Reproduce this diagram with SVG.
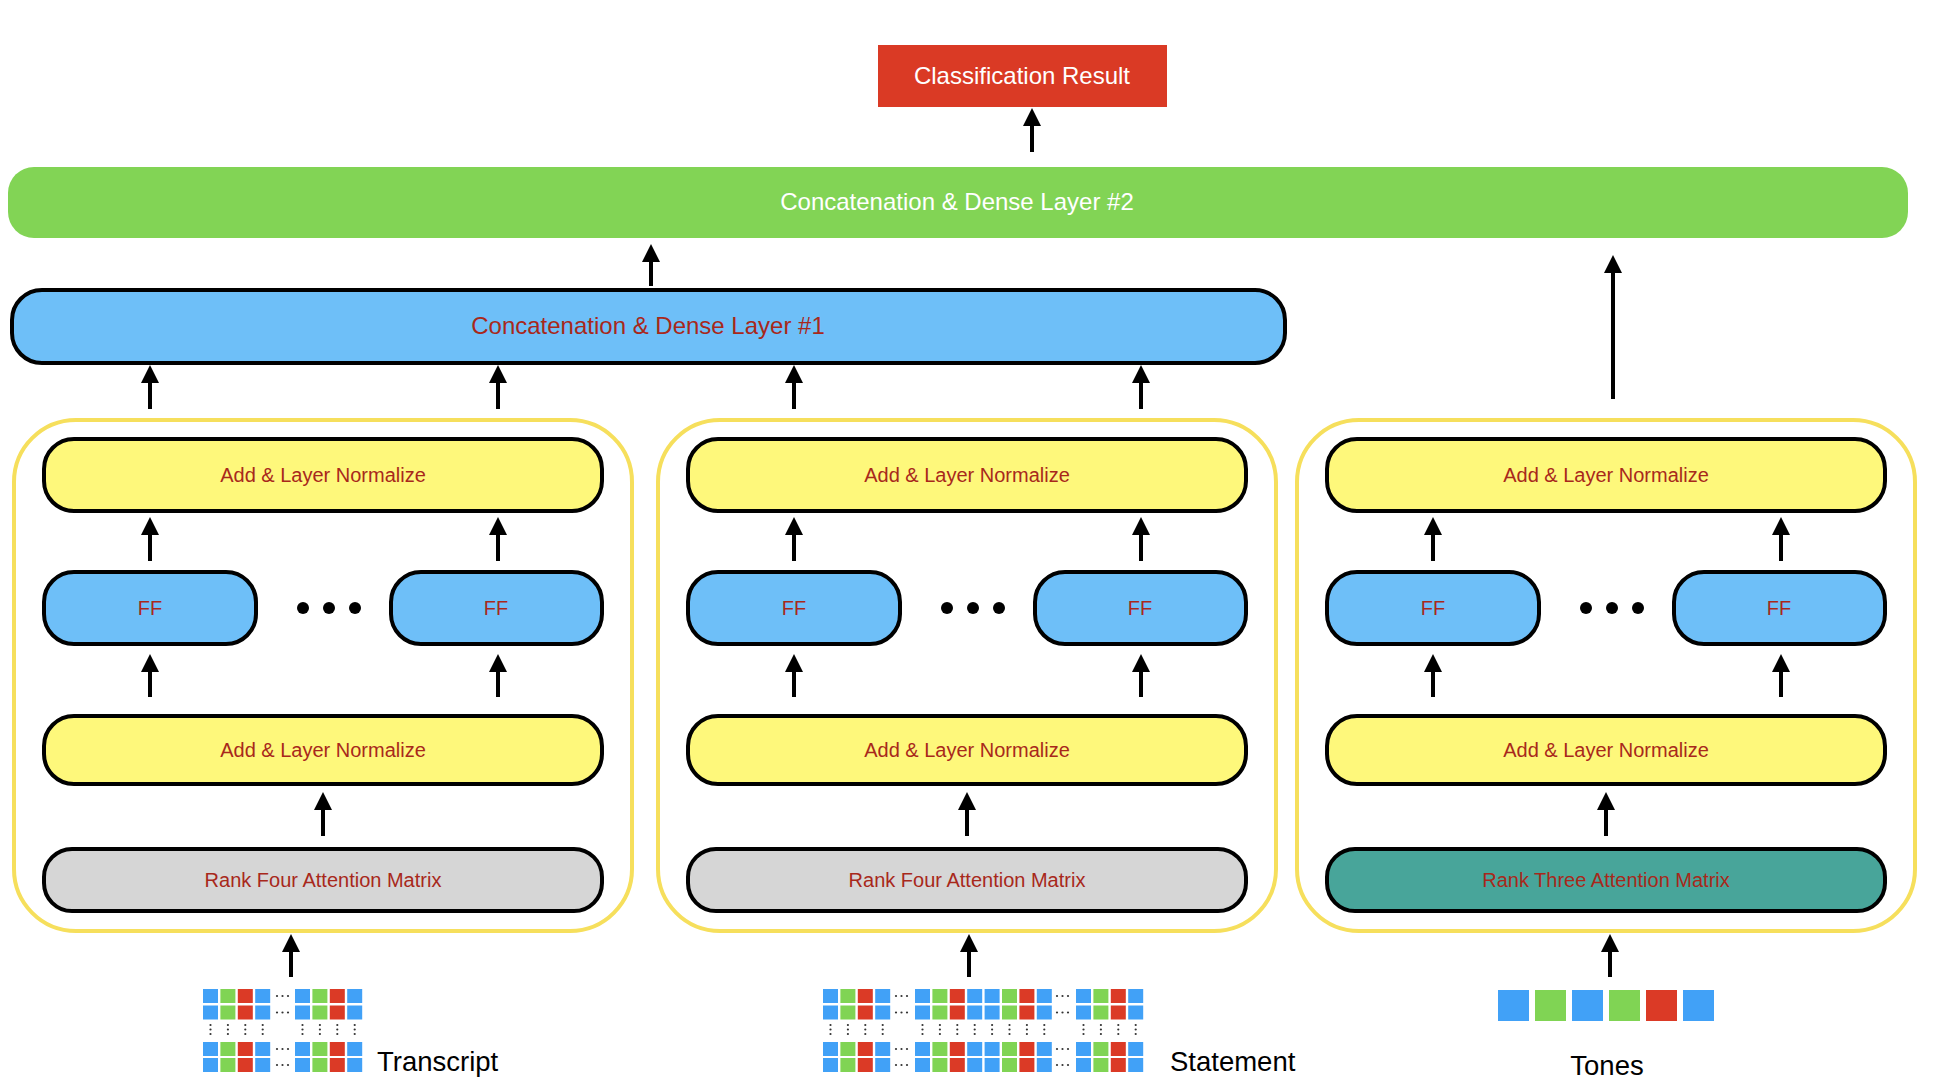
<svg xmlns="http://www.w3.org/2000/svg" xmlns:xlink="http://www.w3.org/1999/xlink" width="1960" height="1080" viewBox="0 0 1960 1080">
<style>
text{font-family:"Liberation Sans",Arial,sans-serif;}
.lbl{font-size:20px;fill:#a8281b;text-anchor:middle;}
.big{font-size:24px;text-anchor:middle;}
.cap{font-size:27.5px;fill:#000;}
.box{stroke:#000;stroke-width:4;}
.yel{fill:#fef87b;}
.blu{fill:#6ebff8;}
.gry{fill:#d6d6d6;}
.tea{fill:#48a59a;}
.panel{fill:none;stroke:#f6df5c;stroke-width:4;}
.arr{stroke:#000;stroke-width:4;fill:none;marker-end:url(#ah);}
.B{fill:#41a1f7;}
.G{fill:#80d454;}
.R{fill:#db3a26;}
.d{fill:#333;}
</style>
<defs>
<marker id="ah" markerUnits="userSpaceOnUse" markerWidth="18" markerHeight="18" viewBox="0 0 18 18" refX="2" refY="9" orient="auto"><path d="M0,0 L18,9 L0,18 z" fill="#000"/></marker>
<g id="q4">
<rect class="B" x="0" y="0" width="15" height="14"/>
<rect class="G" x="17.4" y="0" width="15" height="14"/>
<rect class="R" x="34.8" y="0" width="15" height="14"/>
<rect class="B" x="52.2" y="0" width="15" height="14"/>
</g>
<g id="ell"><circle class="d" cx="0" cy="7" r="1.1"/><circle class="d" cx="5.5" cy="7" r="1.1"/><circle class="d" cx="11" cy="7" r="1.1"/></g>
<g id="vd"><circle class="d" cx="7.5" cy="0" r="1.1"/><circle class="d" cx="7.5" cy="4.5" r="1.1"/><circle class="d" cx="7.5" cy="9" r="1.1"/></g>
<g id="vd4"><use xlink:href="#vd" x="0"/><use xlink:href="#vd" x="17.4"/><use xlink:href="#vd" x="34.8"/><use xlink:href="#vd" x="52.2"/></g>
<g id="trow"><use xlink:href="#q4" x="0"/><use xlink:href="#ell" x="74"/><use xlink:href="#q4" x="92"/></g>
<g id="srow"><use xlink:href="#q4" x="0"/><use xlink:href="#ell" x="73"/><use xlink:href="#q4" x="92"/><use xlink:href="#q4" x="161.6"/><use xlink:href="#ell" x="234"/><use xlink:href="#q4" x="253"/></g>
</defs>
<rect width="1960" height="1080" fill="#fff"/>

<g id="classification">
<rect x="878" y="45" width="289" height="62" fill="#da3a25"/>
<text class="big" x="1022" y="84" fill="#fff">Classification Result</text>
</g>

<g id="dense2">
<rect x="8" y="167" width="1900" height="71" rx="26" fill="#82d455"/>
<text class="big" x="957" y="210" fill="#fff">Concatenation &amp; Dense Layer #2</text>
</g>

<g id="dense1">
<rect class="box blu" x="12" y="290" width="1273" height="73" rx="30"/>
<text class="big" x="648" y="334" fill="#a8281b">Concatenation &amp; Dense Layer #1</text>
</g>

<g id="panel-transcript">
<rect class="panel" x="14" y="420" width="618" height="511" rx="62"/>
<g id="t-addtop"><rect class="box yel" x="44" y="439" width="558" height="72" rx="30"/><text class="lbl" x="323" y="482">Add &amp; Layer Normalize</text></g>
<g id="t-ff1"><rect class="box blu" x="44" y="572" width="212" height="72" rx="30"/><text class="lbl" x="150" y="615">FF</text></g>
<g id="t-ff2"><rect class="box blu" x="391" y="572" width="211" height="72" rx="30"/><text class="lbl" x="496" y="615">FF</text></g>
<g id="t-dots"><circle cx="303" cy="608" r="6"/><circle cx="329" cy="608" r="6"/><circle cx="355" cy="608" r="6"/></g>
<g id="t-addbot"><rect class="box yel" x="44" y="716" width="558" height="68" rx="30"/><text class="lbl" x="323" y="757">Add &amp; Layer Normalize</text></g>
<g id="t-rank"><rect class="box gry" x="44" y="849" width="558" height="62" rx="28"/><text class="lbl" x="323" y="887">Rank Four Attention Matrix</text></g>
</g>

<g id="panel-statement">
<rect class="panel" x="658" y="420" width="618" height="511" rx="62"/>
<g id="s-addtop"><rect class="box yel" x="688" y="439" width="558" height="72" rx="30"/><text class="lbl" x="967" y="482">Add &amp; Layer Normalize</text></g>
<g id="s-ff1"><rect class="box blu" x="688" y="572" width="212" height="72" rx="30"/><text class="lbl" x="794" y="615">FF</text></g>
<g id="s-ff2"><rect class="box blu" x="1035" y="572" width="211" height="72" rx="30"/><text class="lbl" x="1140" y="615">FF</text></g>
<g id="s-dots"><circle cx="947" cy="608" r="6"/><circle cx="973" cy="608" r="6"/><circle cx="999" cy="608" r="6"/></g>
<g id="s-addbot"><rect class="box yel" x="688" y="716" width="558" height="68" rx="30"/><text class="lbl" x="967" y="757">Add &amp; Layer Normalize</text></g>
<g id="s-rank"><rect class="box gry" x="688" y="849" width="558" height="62" rx="28"/><text class="lbl" x="967" y="887">Rank Four Attention Matrix</text></g>
</g>

<g id="panel-tones">
<rect class="panel" x="1297" y="420" width="618" height="511" rx="62"/>
<g id="n-addtop"><rect class="box yel" x="1327" y="439" width="558" height="72" rx="30"/><text class="lbl" x="1606" y="482">Add &amp; Layer Normalize</text></g>
<g id="n-ff1"><rect class="box blu" x="1327" y="572" width="212" height="72" rx="30"/><text class="lbl" x="1433" y="615">FF</text></g>
<g id="n-ff2"><rect class="box blu" x="1674" y="572" width="211" height="72" rx="30"/><text class="lbl" x="1779" y="615">FF</text></g>
<g id="n-dots"><circle cx="1586" cy="608" r="6"/><circle cx="1612" cy="608" r="6"/><circle cx="1638" cy="608" r="6"/></g>
<g id="n-addbot"><rect class="box yel" x="1327" y="716" width="558" height="68" rx="30"/><text class="lbl" x="1606" y="757">Add &amp; Layer Normalize</text></g>
<g id="n-rank"><rect class="box tea" x="1327" y="849" width="558" height="62" rx="28"/><text class="lbl" x="1606" y="887">Rank Three Attention Matrix</text></g>
</g>

<g id="input-transcript">
<use xlink:href="#trow" x="203" y="989"/>
<use xlink:href="#trow" x="203" y="1005.5"/>
<use xlink:href="#vd4" x="203" y="1025"/>
<use xlink:href="#vd4" x="295" y="1025"/>
<use xlink:href="#trow" x="203" y="1042"/>
<use xlink:href="#trow" x="203" y="1058"/>
<text class="cap" x="377" y="1071">Transcript</text>
</g>

<g id="input-statement">
<use xlink:href="#srow" x="823" y="989"/>
<use xlink:href="#srow" x="823" y="1005.5"/>
<use xlink:href="#vd4" x="823" y="1025"/>
<use xlink:href="#vd4" x="915" y="1025"/>
<use xlink:href="#vd4" x="984.6" y="1025"/>
<use xlink:href="#vd4" x="1076" y="1025"/>
<use xlink:href="#srow" x="823" y="1042"/>
<use xlink:href="#srow" x="823" y="1058"/>
<text class="cap" x="1170" y="1071">Statement</text>
</g>

<g id="input-tones">
<rect class="B" x="1498" y="990" width="31" height="31"/>
<rect class="G" x="1535" y="990" width="31" height="31"/>
<rect class="B" x="1572" y="990" width="31" height="31"/>
<rect class="G" x="1609" y="990" width="31" height="31"/>
<rect class="R" x="1646" y="990" width="31" height="31"/>
<rect class="B" x="1683" y="990" width="31" height="31"/>
<text class="cap" x="1607" y="1075" text-anchor="middle">Tones</text>
</g>

<g id="connectors">
<line class="arr" x1="1032" y1="152" x2="1032" y2="124"/>
<line class="arr" x1="651" y1="286" x2="651" y2="260"/>
<line class="arr" x1="1613" y1="399" x2="1613" y2="271"/>
<line class="arr" x1="150" y1="409" x2="150" y2="381"/>
<line class="arr" x1="498" y1="409" x2="498" y2="381"/>
<line class="arr" x1="794" y1="409" x2="794" y2="381"/>
<line class="arr" x1="1141" y1="409" x2="1141" y2="381"/>
<line class="arr" x1="150" y1="561" x2="150" y2="533"/>
<line class="arr" x1="498" y1="561" x2="498" y2="533"/>
<line class="arr" x1="150" y1="697" x2="150" y2="670"/>
<line class="arr" x1="498" y1="697" x2="498" y2="670"/>
<line class="arr" x1="323" y1="836" x2="323" y2="808"/>
<line class="arr" x1="794" y1="561" x2="794" y2="533"/>
<line class="arr" x1="1141" y1="561" x2="1141" y2="533"/>
<line class="arr" x1="794" y1="697" x2="794" y2="670"/>
<line class="arr" x1="1141" y1="697" x2="1141" y2="670"/>
<line class="arr" x1="967" y1="836" x2="967" y2="808"/>
<line class="arr" x1="1433" y1="561" x2="1433" y2="533"/>
<line class="arr" x1="1781" y1="561" x2="1781" y2="533"/>
<line class="arr" x1="1433" y1="697" x2="1433" y2="670"/>
<line class="arr" x1="1781" y1="697" x2="1781" y2="670"/>
<line class="arr" x1="1606" y1="836" x2="1606" y2="808"/>
<line class="arr" x1="291" y1="977" x2="291" y2="950"/>
<line class="arr" x1="969" y1="977" x2="969" y2="950"/>
<line class="arr" x1="1610" y1="977" x2="1610" y2="950"/>
</g>
</svg>
